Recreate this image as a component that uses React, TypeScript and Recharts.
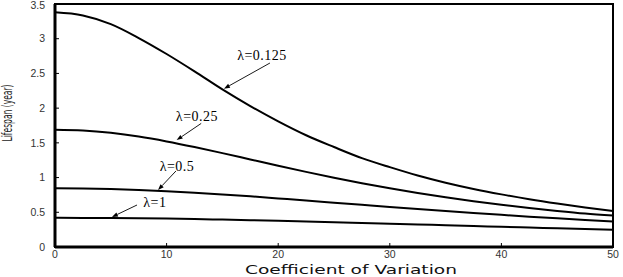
import React from "react";
import {
  LineChart,
  Line,
  XAxis,
  YAxis,
  ReferenceArea,
  ReferenceLine,
  ReferenceDot,
} from "recharts";

// coefficient of variation (x)
const cv = [0, 2.5, 5, 7.5, 10, 12.5, 15, 17.5, 20, 22.5, 25, 27.5, 30, 32.5, 35, 37.5, 40, 42.5, 45, 47.5, 50];

// lifespan (year) per arrival rate
const lambda0125 = [3.38, 3.335, 3.21, 3.01, 2.78, 2.53, 2.27, 2.03, 1.81, 1.61, 1.44, 1.28, 1.15, 1.03, 0.926, 0.836, 0.758, 0.688, 0.626, 0.57, 0.518];
const lambda025 = [1.69, 1.678, 1.644, 1.591, 1.521, 1.44, 1.352, 1.261, 1.17, 1.082, 0.998, 0.918, 0.845, 0.777, 0.716, 0.659, 0.608, 0.562, 0.52, 0.482, 0.452];
const lambda05 = [0.845, 0.842, 0.834, 0.821, 0.803, 0.782, 0.757, 0.73, 0.7, 0.67, 0.639, 0.608, 0.577, 0.547, 0.518, 0.49, 0.463, 0.437, 0.413, 0.39, 0.368];
const lambda1 = [0.42, 0.419, 0.417, 0.414, 0.409, 0.403, 0.395, 0.387, 0.378, 0.368, 0.358, 0.347, 0.336, 0.325, 0.313, 0.302, 0.291, 0.28, 0.269, 0.258, 0.248];

const xTicks = [0, 10, 20, 30, 40, 50];
const yTicks = [0, 0.5, 1, 1.5, 2, 2.5, 3, 3.5];

// curve labels: text spot and arrow (from -> to) in data units
const notes = [
  { text: "λ=0.125", tx: 18.55, ty: 2.77, x1: 19.26, y1: 2.65, x2: 15.14, y2: 2.28 },
  { text: "λ=0.25", tx: 12.72, ty: 1.89, x1: 13.1, y1: 1.78, x2: 10.9, y2: 1.54 },
  { text: "λ=0.5", tx: 10.93, ty: 1.17, x1: 10.84, y1: 1.095, x2: 9.23, y2: 0.82 },
  { text: "λ=1", tx: 8.95, ty: 0.65, x1: 7.35, y1: 0.605, x2: 5.1, y2: 0.432 },
];

const data = cv.map((x, i) => ({
  x,
  a: lambda0125[i],
  b: lambda025[i],
  c: lambda05[i],
  d: lambda1[i],
}));

const tickFont = { fontFamily: "'Liberation Sans', Arial, sans-serif", fontSize: 10.5, fill: "#333" };

function Arrow(p: any) {
  const { x1, y1, x2, y2 } = p;
  const ang = Math.atan2(y2 - y1, x2 - x1);
  const len = 6;
  const w = 2.2;
  const bx = x2 - len * Math.cos(ang);
  const by = y2 - len * Math.sin(ang);
  const px = -Math.sin(ang) * w;
  const py = Math.cos(ang) * w;
  return (
    <g>
      <line x1={x1} y1={y1} x2={bx} y2={by} stroke="#000" strokeWidth={0.9} />
      <polygon points={`${x2},${y2} ${bx + px},${by + py} ${bx - px},${by - py}`} fill="#000" />
    </g>
  );
}

export default function App() {
  return (
    <div style={{ position: "absolute", left: 0, top: 0, width: 623, height: 277, background: "#fff" }}>
      <LineChart
        width={623}
        height={277}
        data={data}
        margin={{ top: 4, right: 10, left: 0, bottom: 0 }}
      >
        <XAxis
          dataKey="x"
          type="number"
          domain={[0, 50]}
          ticks={xTicks}
          axisLine={false}
          tickSize={-4}
          tickMargin={8}
          tickLine={{ stroke: "#000" }}
          tick={tickFont}
          height={30}
          label={{
            content: () => (
              <text
                x={351}
                y={274}
                textAnchor="middle"
                textLength={212}
                lengthAdjust="spacingAndGlyphs"
                fontFamily="'DejaVu Sans', Verdana, sans-serif"
                fontSize={13}
                fill="#111"
              >
                Coefficient of Variation
              </text>
            ),
          }}
        />
        <YAxis
          type="number"
          domain={[0, 3.5]}
          ticks={yTicks}
          axisLine={false}
          tickSize={-4}
          tickMargin={14}
          tickLine={{ stroke: "#000" }}
          tick={tickFont}
          width={55}
          label={{
            content: () => (
              <text
                x={0}
                y={0}
                transform="translate(12,113) rotate(-90)"
                textAnchor="middle"
                textLength={57}
                lengthAdjust="spacingAndGlyphs"
                fontFamily="'Liberation Sans Narrow', 'DejaVu Sans Condensed', sans-serif"
                fontSize={13.5}
                fill="#222"
              >
                Lifespan (year)
              </text>
            ),
          }}
        />
        <ReferenceArea x1={0} x2={50} y1={0} y2={3.5} fill="none" stroke="#000" strokeWidth={2} />
        <ReferenceLine x={0} stroke="#000" strokeWidth={3} />
        <ReferenceLine y={0} stroke="#000" strokeWidth={3} />
        <Line dataKey="a" stroke="#000" strokeWidth={2} dot={false} type="monotone" isAnimationActive={false} />
        <Line dataKey="b" stroke="#000" strokeWidth={2} dot={false} type="monotone" isAnimationActive={false} />
        <Line dataKey="c" stroke="#000" strokeWidth={2} dot={false} type="monotone" isAnimationActive={false} />
        <Line dataKey="d" stroke="#000" strokeWidth={2} dot={false} type="monotone" isAnimationActive={false} />
        {notes.map((n) => (
          <ReferenceLine
            key={"arr" + n.text}
            segment={[
              { x: n.x1, y: n.y1 },
              { x: n.x2, y: n.y2 },
            ]}
            shape={Arrow}
          />
        ))}
        {notes.map((n) => (
          <ReferenceDot
            key={"lbl" + n.text}
            x={n.tx}
            y={n.ty}
            r={0}
            shape={(p: any) => (
              <text
                x={p.cx}
                y={p.cy}
                dy="0.35em"
                textAnchor="middle"
                fontFamily="'Liberation Serif', 'Times New Roman', serif"
                fontSize={14}
                letterSpacing={0.5}
                fill="#000"
              >
                {n.text}
              </text>
            )}
          />
        ))}
      </LineChart>
    </div>
  );
}
